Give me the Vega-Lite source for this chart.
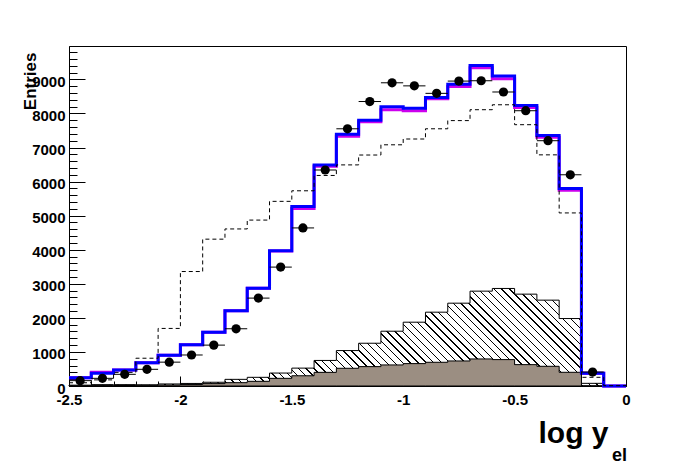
{
  "$schema": "https://vega.github.io/schema/vega-lite/v6.json",
  "width": 557,
  "height": 340,
  "autosize": {"type": "none"},
  "padding": {"left": 69, "top": 46, "right": 70, "bottom": 86},
  "background": "white",
  "config": {
    "view": {"stroke": "black", "strokeWidth": 1},
    "axis": {"labelFont": "Liberation Sans", "labelFontWeight": "bold", "labelFontSize": 15, "labelColor": "black", "titleFont": "Liberation Sans", "titleFontWeight": "bold", "titleColor": "black", "domainColor": "black", "tickColor": "black", "grid": false, "labelFlush": false, "labelOverlap": false, "labelBound": false, "tickWidth": 1, "domainWidth": 1, "tickCount": 100}
  },
  "title": {"text": "el", "orient": "bottom", "anchor": "end", "fontSize": 18, "fontWeight": "bold", "font": "Liberation Sans", "color": "black", "offset": 0, "dy": -1, "dx": -5},
  "data": {"values": [
    {"lo":-2.5,"hi":-2.4,"mid":-2.45,"B":245,"M":245,"D":95,"P":157,"H":25,"G":5},
    {"lo":-2.4,"hi":-2.3,"mid":-2.35,"B":375,"M":405,"D":180,"P":225,"H":40,"G":10},
    {"lo":-2.3,"hi":-2.2,"mid":-2.25,"B":470,"M":470,"D":400,"P":343,"H":40,"G":15},
    {"lo":-2.2,"hi":-2.1,"mid":-2.15,"B":680,"M":680,"D":815,"P":490,"H":35,"G":20},
    {"lo":-2.1,"hi":-2.0,"mid":-2.05,"B":900,"M":900,"D":1690,"P":700,"H":60,"G":30},
    {"lo":-2.0,"hi":-1.9,"mid":-1.95,"B":1210,"M":1210,"D":3360,"P":910,"H":75,"G":45},
    {"lo":-1.9,"hi":-1.8,"mid":-1.85,"B":1580,"M":1580,"D":4310,"P":1200,"H":110,"G":70},
    {"lo":-1.8,"hi":-1.7,"mid":-1.75,"B":2210,"M":2210,"D":4610,"P":1680,"H":195,"G":98},
    {"lo":-1.7,"hi":-1.6,"mid":-1.65,"B":2870,"M":2870,"D":4870,"P":2580,"H":255,"G":137},
    {"lo":-1.6,"hi":-1.5,"mid":-1.55,"B":3970,"M":3960,"D":5420,"P":3490,"H":380,"G":225},
    {"lo":-1.5,"hi":-1.4,"mid":-1.45,"B":5270,"M":5210,"D":5730,"P":4640,"H":525,"G":300},
    {"lo":-1.4,"hi":-1.3,"mid":-1.35,"B":6490,"M":6450,"D":6180,"P":6340,"H":750,"G":400},
    {"lo":-1.3,"hi":-1.2,"mid":-1.25,"B":7390,"M":7330,"D":6490,"P":7550,"H":1040,"G":520},
    {"lo":-1.2,"hi":-1.1,"mid":-1.15,"B":7800,"M":7760,"D":6780,"P":8350,"H":1255,"G":569},
    {"lo":-1.1,"hi":-1.0,"mid":-1.05,"B":8200,"M":8110,"D":7080,"P":8900,"H":1608,"G":618},
    {"lo":-1.0,"hi":-0.9,"mid":-0.95,"B":8150,"M":8080,"D":7250,"P":8810,"H":1873,"G":657},
    {"lo":-0.9,"hi":-0.8,"mid":-0.85,"B":8470,"M":8430,"D":7550,"P":8590,"H":2167,"G":696},
    {"lo":-0.8,"hi":-0.7,"mid":-0.75,"B":8860,"M":8790,"D":7790,"P":8950,"H":2431,"G":735},
    {"lo":-0.7,"hi":-0.6,"mid":-0.65,"B":9410,"M":9340,"D":8110,"P":8960,"H":2784,"G":794},
    {"lo":-0.6,"hi":-0.5,"mid":-0.55,"B":9100,"M":9020,"D":8255,"P":8630,"H":2863,"G":775},
    {"lo":-0.5,"hi":-0.4,"mid":-0.45,"B":8235,"M":8175,"D":7670,"P":8080,"H":2696,"G":627},
    {"lo":-0.4,"hi":-0.3,"mid":-0.35,"B":7350,"M":7300,"D":6785,"P":7200,"H":2520,"G":578},
    {"lo":-0.3,"hi":-0.2,"mid":-0.25,"B":5800,"M":5745,"D":5080,"P":6200,"H":1980,"G":402},
    {"lo":-0.2,"hi":-0.1,"mid":-0.15,"B":373,"M":373,"D":255,"P":410,"H":78,"G":0},
    {"lo":-0.1,"hi":0,"mid":-0.05,"B":0,"M":0,"D":10,"P":null,"H":0,"G":0},
    {"lo":0,"hi":null,"mid":null,"B":0,"M":0,"D":10,"P":null,"H":0,"G":0}
  ]},
  "layer": [
    {
      "mark": {"type": "area", "interpolate": "step-after", "stroke": "black", "strokeWidth": 1,
        "fill": {"gradient": "linear", "x1": 0, "y1": 1, "x2": 1.1402, "y2": 0.8004, "stops": [
          {"offset":0,"color":"#fff"},
          {"offset":0.004,"color":"#fff"},{"offset":0.004,"color":"#000"},{"offset":0.0062,"color":"#000"},{"offset":0.0062,"color":"#fff"},
          {"offset":0.016,"color":"#fff"},{"offset":0.016,"color":"#000"},{"offset":0.0182,"color":"#000"},{"offset":0.0182,"color":"#fff"},
          {"offset":0.028,"color":"#fff"},{"offset":0.028,"color":"#000"},{"offset":0.0302,"color":"#000"},{"offset":0.0302,"color":"#fff"},
          {"offset":0.04,"color":"#fff"},{"offset":0.04,"color":"#000"},{"offset":0.0422,"color":"#000"},{"offset":0.0422,"color":"#fff"},
          {"offset":0.052,"color":"#fff"},{"offset":0.052,"color":"#000"},{"offset":0.0542,"color":"#000"},{"offset":0.0542,"color":"#fff"},
          {"offset":0.064,"color":"#fff"},{"offset":0.064,"color":"#000"},{"offset":0.0662,"color":"#000"},{"offset":0.0662,"color":"#fff"},
          {"offset":0.076,"color":"#fff"},{"offset":0.076,"color":"#000"},{"offset":0.0782,"color":"#000"},{"offset":0.0782,"color":"#fff"},
          {"offset":0.088,"color":"#fff"},{"offset":0.088,"color":"#000"},{"offset":0.0902,"color":"#000"},{"offset":0.0902,"color":"#fff"},
          {"offset":0.1,"color":"#fff"},{"offset":0.1,"color":"#000"},{"offset":0.1022,"color":"#000"},{"offset":0.1022,"color":"#fff"},
          {"offset":0.112,"color":"#fff"},{"offset":0.112,"color":"#000"},{"offset":0.1142,"color":"#000"},{"offset":0.1142,"color":"#fff"},
          {"offset":0.124,"color":"#fff"},{"offset":0.124,"color":"#000"},{"offset":0.1262,"color":"#000"},{"offset":0.1262,"color":"#fff"},
          {"offset":0.136,"color":"#fff"},{"offset":0.136,"color":"#000"},{"offset":0.1382,"color":"#000"},{"offset":0.1382,"color":"#fff"},
          {"offset":0.148,"color":"#fff"},{"offset":0.148,"color":"#000"},{"offset":0.1502,"color":"#000"},{"offset":0.1502,"color":"#fff"},
          {"offset":0.16,"color":"#fff"},{"offset":0.16,"color":"#000"},{"offset":0.1622,"color":"#000"},{"offset":0.1622,"color":"#fff"},
          {"offset":0.172,"color":"#fff"},{"offset":0.172,"color":"#000"},{"offset":0.1742,"color":"#000"},{"offset":0.1742,"color":"#fff"},
          {"offset":0.184,"color":"#fff"},{"offset":0.184,"color":"#000"},{"offset":0.1862,"color":"#000"},{"offset":0.1862,"color":"#fff"},
          {"offset":0.196,"color":"#fff"},{"offset":0.196,"color":"#000"},{"offset":0.1982,"color":"#000"},{"offset":0.1982,"color":"#fff"},
          {"offset":0.208,"color":"#fff"},{"offset":0.208,"color":"#000"},{"offset":0.2102,"color":"#000"},{"offset":0.2102,"color":"#fff"},
          {"offset":0.22,"color":"#fff"},{"offset":0.22,"color":"#000"},{"offset":0.2222,"color":"#000"},{"offset":0.2222,"color":"#fff"},
          {"offset":0.232,"color":"#fff"},{"offset":0.232,"color":"#000"},{"offset":0.2342,"color":"#000"},{"offset":0.2342,"color":"#fff"},
          {"offset":0.244,"color":"#fff"},{"offset":0.244,"color":"#000"},{"offset":0.2462,"color":"#000"},{"offset":0.2462,"color":"#fff"},
          {"offset":0.256,"color":"#fff"},{"offset":0.256,"color":"#000"},{"offset":0.2582,"color":"#000"},{"offset":0.2582,"color":"#fff"},
          {"offset":0.268,"color":"#fff"},{"offset":0.268,"color":"#000"},{"offset":0.2702,"color":"#000"},{"offset":0.2702,"color":"#fff"},
          {"offset":0.28,"color":"#fff"},{"offset":0.28,"color":"#000"},{"offset":0.2822,"color":"#000"},{"offset":0.2822,"color":"#fff"},
          {"offset":0.292,"color":"#fff"},{"offset":0.292,"color":"#000"},{"offset":0.2942,"color":"#000"},{"offset":0.2942,"color":"#fff"},
          {"offset":0.304,"color":"#fff"},{"offset":0.304,"color":"#000"},{"offset":0.3062,"color":"#000"},{"offset":0.3062,"color":"#fff"},
          {"offset":0.316,"color":"#fff"},{"offset":0.316,"color":"#000"},{"offset":0.3182,"color":"#000"},{"offset":0.3182,"color":"#fff"},
          {"offset":0.328,"color":"#fff"},{"offset":0.328,"color":"#000"},{"offset":0.3302,"color":"#000"},{"offset":0.3302,"color":"#fff"},
          {"offset":0.34,"color":"#fff"},{"offset":0.34,"color":"#000"},{"offset":0.3422,"color":"#000"},{"offset":0.3422,"color":"#fff"},
          {"offset":0.352,"color":"#fff"},{"offset":0.352,"color":"#000"},{"offset":0.3542,"color":"#000"},{"offset":0.3542,"color":"#fff"},
          {"offset":0.364,"color":"#fff"},{"offset":0.364,"color":"#000"},{"offset":0.3662,"color":"#000"},{"offset":0.3662,"color":"#fff"},
          {"offset":0.376,"color":"#fff"},{"offset":0.376,"color":"#000"},{"offset":0.3782,"color":"#000"},{"offset":0.3782,"color":"#fff"},
          {"offset":0.388,"color":"#fff"},{"offset":0.388,"color":"#000"},{"offset":0.3902,"color":"#000"},{"offset":0.3902,"color":"#fff"},
          {"offset":0.4,"color":"#fff"},{"offset":0.4,"color":"#000"},{"offset":0.4022,"color":"#000"},{"offset":0.4022,"color":"#fff"},
          {"offset":0.412,"color":"#fff"},{"offset":0.412,"color":"#000"},{"offset":0.4142,"color":"#000"},{"offset":0.4142,"color":"#fff"},
          {"offset":0.424,"color":"#fff"},{"offset":0.424,"color":"#000"},{"offset":0.4262,"color":"#000"},{"offset":0.4262,"color":"#fff"},
          {"offset":0.436,"color":"#fff"},{"offset":0.436,"color":"#000"},{"offset":0.4382,"color":"#000"},{"offset":0.4382,"color":"#fff"},
          {"offset":0.448,"color":"#fff"},{"offset":0.448,"color":"#000"},{"offset":0.4502,"color":"#000"},{"offset":0.4502,"color":"#fff"},
          {"offset":0.46,"color":"#fff"},{"offset":0.46,"color":"#000"},{"offset":0.4622,"color":"#000"},{"offset":0.4622,"color":"#fff"},
          {"offset":0.472,"color":"#fff"},{"offset":0.472,"color":"#000"},{"offset":0.4742,"color":"#000"},{"offset":0.4742,"color":"#fff"},
          {"offset":0.484,"color":"#fff"},{"offset":0.484,"color":"#000"},{"offset":0.4862,"color":"#000"},{"offset":0.4862,"color":"#fff"},
          {"offset":0.496,"color":"#fff"},{"offset":0.496,"color":"#000"},{"offset":0.4982,"color":"#000"},{"offset":0.4982,"color":"#fff"},
          {"offset":0.508,"color":"#fff"},{"offset":0.508,"color":"#000"},{"offset":0.5102,"color":"#000"},{"offset":0.5102,"color":"#fff"},
          {"offset":0.52,"color":"#fff"},{"offset":0.52,"color":"#000"},{"offset":0.5222,"color":"#000"},{"offset":0.5222,"color":"#fff"},
          {"offset":0.532,"color":"#fff"},{"offset":0.532,"color":"#000"},{"offset":0.5342,"color":"#000"},{"offset":0.5342,"color":"#fff"},
          {"offset":0.544,"color":"#fff"},{"offset":0.544,"color":"#000"},{"offset":0.5462,"color":"#000"},{"offset":0.5462,"color":"#fff"},
          {"offset":0.556,"color":"#fff"},{"offset":0.556,"color":"#000"},{"offset":0.5582,"color":"#000"},{"offset":0.5582,"color":"#fff"},
          {"offset":0.568,"color":"#fff"},{"offset":0.568,"color":"#000"},{"offset":0.5702,"color":"#000"},{"offset":0.5702,"color":"#fff"},
          {"offset":0.58,"color":"#fff"},{"offset":0.58,"color":"#000"},{"offset":0.5822,"color":"#000"},{"offset":0.5822,"color":"#fff"},
          {"offset":0.592,"color":"#fff"},{"offset":0.592,"color":"#000"},{"offset":0.5942,"color":"#000"},{"offset":0.5942,"color":"#fff"},
          {"offset":0.604,"color":"#fff"},{"offset":0.604,"color":"#000"},{"offset":0.6062,"color":"#000"},{"offset":0.6062,"color":"#fff"},
          {"offset":0.616,"color":"#fff"},{"offset":0.616,"color":"#000"},{"offset":0.6182,"color":"#000"},{"offset":0.6182,"color":"#fff"},
          {"offset":0.628,"color":"#fff"},{"offset":0.628,"color":"#000"},{"offset":0.6302,"color":"#000"},{"offset":0.6302,"color":"#fff"},
          {"offset":0.64,"color":"#fff"},{"offset":0.64,"color":"#000"},{"offset":0.6422,"color":"#000"},{"offset":0.6422,"color":"#fff"},
          {"offset":0.652,"color":"#fff"},{"offset":0.652,"color":"#000"},{"offset":0.6542,"color":"#000"},{"offset":0.6542,"color":"#fff"},
          {"offset":0.664,"color":"#fff"},{"offset":0.664,"color":"#000"},{"offset":0.6662,"color":"#000"},{"offset":0.6662,"color":"#fff"},
          {"offset":0.676,"color":"#fff"},{"offset":0.676,"color":"#000"},{"offset":0.6782,"color":"#000"},{"offset":0.6782,"color":"#fff"},
          {"offset":0.688,"color":"#fff"},{"offset":0.688,"color":"#000"},{"offset":0.6902,"color":"#000"},{"offset":0.6902,"color":"#fff"},
          {"offset":0.7,"color":"#fff"},{"offset":0.7,"color":"#000"},{"offset":0.7022,"color":"#000"},{"offset":0.7022,"color":"#fff"},
          {"offset":0.712,"color":"#fff"},{"offset":0.712,"color":"#000"},{"offset":0.7142,"color":"#000"},{"offset":0.7142,"color":"#fff"},
          {"offset":0.724,"color":"#fff"},{"offset":0.724,"color":"#000"},{"offset":0.7262,"color":"#000"},{"offset":0.7262,"color":"#fff"},
          {"offset":0.736,"color":"#fff"},{"offset":0.736,"color":"#000"},{"offset":0.7382,"color":"#000"},{"offset":0.7382,"color":"#fff"},
          {"offset":0.748,"color":"#fff"},{"offset":0.748,"color":"#000"},{"offset":0.7502,"color":"#000"},{"offset":0.7502,"color":"#fff"},
          {"offset":0.76,"color":"#fff"},{"offset":0.76,"color":"#000"},{"offset":0.7622,"color":"#000"},{"offset":0.7622,"color":"#fff"},
          {"offset":0.772,"color":"#fff"},{"offset":0.772,"color":"#000"},{"offset":0.7742,"color":"#000"},{"offset":0.7742,"color":"#fff"},
          {"offset":0.784,"color":"#fff"},{"offset":0.784,"color":"#000"},{"offset":0.7862,"color":"#000"},{"offset":0.7862,"color":"#fff"},
          {"offset":0.796,"color":"#fff"},{"offset":0.796,"color":"#000"},{"offset":0.7982,"color":"#000"},{"offset":0.7982,"color":"#fff"},
          {"offset":0.808,"color":"#fff"},{"offset":0.808,"color":"#000"},{"offset":0.8102,"color":"#000"},{"offset":0.8102,"color":"#fff"},
          {"offset":0.82,"color":"#fff"},{"offset":0.82,"color":"#000"},{"offset":0.8222,"color":"#000"},{"offset":0.8222,"color":"#fff"},
          {"offset":0.832,"color":"#fff"},{"offset":0.832,"color":"#000"},{"offset":0.8342,"color":"#000"},{"offset":0.8342,"color":"#fff"},
          {"offset":0.844,"color":"#fff"},{"offset":0.844,"color":"#000"},{"offset":0.8462,"color":"#000"},{"offset":0.8462,"color":"#fff"},
          {"offset":0.856,"color":"#fff"},{"offset":0.856,"color":"#000"},{"offset":0.8582,"color":"#000"},{"offset":0.8582,"color":"#fff"},
          {"offset":0.868,"color":"#fff"},{"offset":0.868,"color":"#000"},{"offset":0.8702,"color":"#000"},{"offset":0.8702,"color":"#fff"},
          {"offset":0.88,"color":"#fff"},{"offset":0.88,"color":"#000"},{"offset":0.8822,"color":"#000"},{"offset":0.8822,"color":"#fff"},
          {"offset":0.892,"color":"#fff"},{"offset":0.892,"color":"#000"},{"offset":0.8942,"color":"#000"},{"offset":0.8942,"color":"#fff"},
          {"offset":0.904,"color":"#fff"},{"offset":0.904,"color":"#000"},{"offset":0.9062,"color":"#000"},{"offset":0.9062,"color":"#fff"},
          {"offset":0.916,"color":"#fff"},{"offset":0.916,"color":"#000"},{"offset":0.9182,"color":"#000"},{"offset":0.9182,"color":"#fff"},
          {"offset":0.928,"color":"#fff"},{"offset":0.928,"color":"#000"},{"offset":0.9302,"color":"#000"},{"offset":0.9302,"color":"#fff"},
          {"offset":0.94,"color":"#fff"},{"offset":0.94,"color":"#000"},{"offset":0.9422,"color":"#000"},{"offset":0.9422,"color":"#fff"},
          {"offset":0.952,"color":"#fff"},{"offset":0.952,"color":"#000"},{"offset":0.9542,"color":"#000"},{"offset":0.9542,"color":"#fff"},
          {"offset":0.964,"color":"#fff"},{"offset":0.964,"color":"#000"},{"offset":0.9662,"color":"#000"},{"offset":0.9662,"color":"#fff"},
          {"offset":0.976,"color":"#fff"},{"offset":0.976,"color":"#000"},{"offset":0.9782,"color":"#000"},{"offset":0.9782,"color":"#fff"},
          {"offset":0.988,"color":"#fff"},{"offset":0.988,"color":"#000"},{"offset":0.9902,"color":"#000"},{"offset":0.9902,"color":"#fff"},
          {"offset":1,"color":"#fff"}
        ]}
      },
      "encoding": {
        "x": {"field": "lo", "type": "quantitative", "title": "log y",
          "scale": {"domain": [-2.5, 0], "nice": false, "zero": false},
          "axis": {
            "values": [-2.5,-2.4,-2.3,-2.2,-2.1,-2,-1.9,-1.8,-1.7,-1.6,-1.5,-1.4,-1.3,-1.2,-1.1,-1,-0.9,-0.8,-0.7,-0.6,-0.5,-0.4,-0.3,-0.2,-0.1,0],
            "tickCount": 100,
            "labelExpr": "abs(datum.value*2 - round(datum.value*2)) < 0.001 ? '' + datum.value : ''",
            "tickSize": {"condition": {"test": "abs(datum.value*2 - round(datum.value*2)) < 0.001", "value": -10}, "value": -5},
            "labelPadding": 16, "labelOverlap": false, "labelFlush": false, "labelBound": false,
            "titleFontSize": 30, "titleAlign": "right", "titleAnchor": "end", "titleBaseline": "alphabetic", "titleX": 539, "titleY": 56
          }
        },
        "y": {"field": "H", "type": "quantitative", "stack": null, "title": "Entries",
          "scale": {"domain": [0, 9980], "nice": false},
          "axis": {
            "values": [0,200,400,600,800,1000,1200,1400,1600,1800,2000,2200,2400,2600,2800,3000,3200,3400,3600,3800,4000,4200,4400,4600,4800,5000,5200,5400,5600,5800,6000,6200,6400,6600,6800,7000,7200,7400,7600,7800,8000,8200,8400,8600,8800,9000,9200,9400,9600,9800],
            "tickCount": 100,
            "labelExpr": "datum.value % 1000 === 0 ? '' + datum.value : ''",
            "tickSize": {"condition": {"test": "datum.value % 1000 === 0", "value": -16}, "value": -8},
            "labelPadding": 20, "labelOffset": 2, "labelOverlap": false, "labelFlush": false, "labelBound": false,
            "titleFontSize": 17, "titleAngle": 270, "titleAlign": "right", "titleAnchor": "end", "titleBaseline": "alphabetic", "titleX": -34, "titleY": 6
          }
        }
      }
    },
    {
      "mark": {"type": "area", "interpolate": "step-after", "fill": "#9b8e82", "stroke": "black", "strokeWidth": 1},
      "encoding": {
        "x": {"field": "lo", "type": "quantitative", "title": "log y", "axis": {"labelOverlap": false, "tickCount": 100}},
        "y": {"field": "G", "type": "quantitative", "stack": null, "title": "Entries", "axis": {"labelOverlap": false, "tickCount": 100}}
      }
    },
    {
      "mark": {"type": "line", "interpolate": "step-after", "stroke": "#cc00ee", "strokeWidth": 3},
      "encoding": {
        "x": {"field": "lo", "type": "quantitative", "title": "log y", "axis": {"labelOverlap": false, "tickCount": 100}},
        "y": {"field": "M", "type": "quantitative", "title": "Entries", "axis": {"labelOverlap": false, "tickCount": 100}}
      }
    },
    {
      "mark": {"type": "line", "interpolate": "step-after", "stroke": "#0000ff", "strokeWidth": 3},
      "encoding": {
        "x": {"field": "lo", "type": "quantitative", "title": "log y", "axis": {"labelOverlap": false, "tickCount": 100}},
        "y": {"field": "B", "type": "quantitative", "title": "Entries", "axis": {"labelOverlap": false, "tickCount": 100}}
      }
    },
    {
      "mark": {"type": "line", "interpolate": "step-after", "stroke": "black", "strokeWidth": 1, "strokeDash": [4, 3]},
      "encoding": {
        "x": {"field": "lo", "type": "quantitative", "title": "log y", "axis": {"labelOverlap": false, "tickCount": 100}},
        "y": {"field": "D", "type": "quantitative", "title": "Entries", "axis": {"labelOverlap": false, "tickCount": 100}}
      }
    },
    {
      "transform": [{"filter": "datum.P != null"}],
      "mark": {"type": "rule", "stroke": "black", "strokeWidth": 1},
      "encoding": {
        "x": {"field": "lo", "type": "quantitative", "title": "log y", "axis": {"labelOverlap": false, "tickCount": 100}},
        "x2": {"field": "hi"},
        "y": {"field": "P", "type": "quantitative", "title": "Entries", "axis": {"labelOverlap": false, "tickCount": 100}}
      }
    },
    {
      "transform": [{"filter": "datum.P != null"}],
      "mark": {"type": "point", "shape": "circle", "filled": true, "fill": "black", "stroke": null, "size": 85, "opacity": 1},
      "encoding": {
        "x": {"field": "mid", "type": "quantitative", "title": "log y", "axis": {"labelOverlap": false, "tickCount": 100}},
        "y": {"field": "P", "type": "quantitative", "title": "Entries", "axis": {"labelOverlap": false, "tickCount": 100}}
      }
    }
  ]
}
